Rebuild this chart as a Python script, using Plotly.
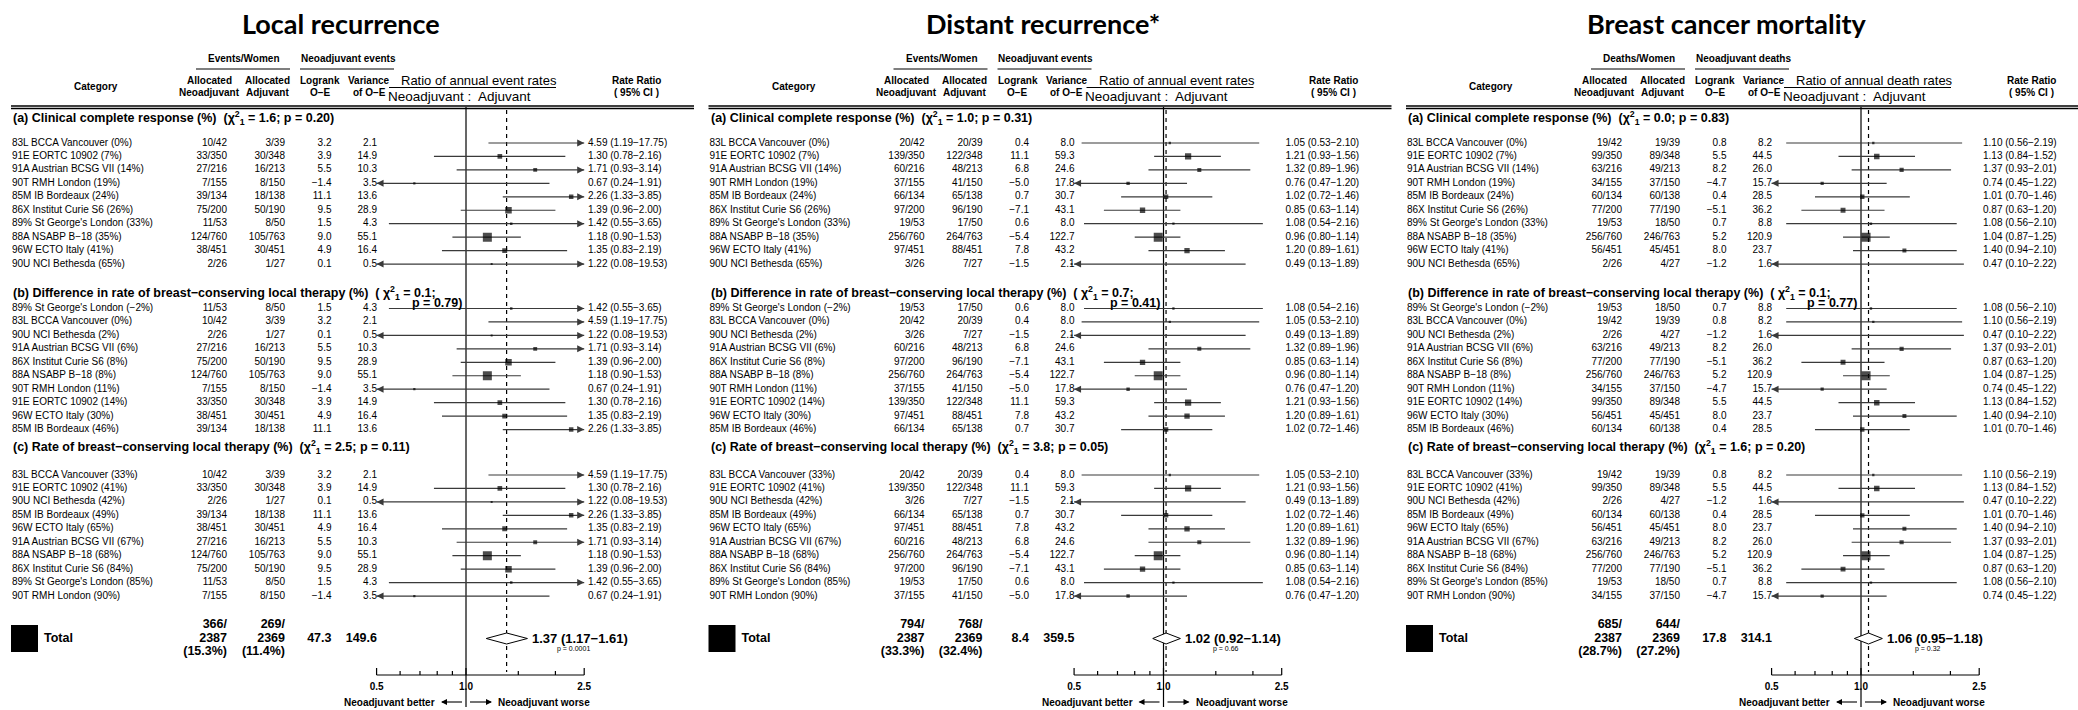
import math
import plotly.graph_objects as go

# ---------------------------------------------------------------- data
PANEL_TITLES = ["Local recurrence", "Distant recurrence*", "Breast cancer mortality"]
COUNT_HEADERS = ["Events/Women", "Events/Women", "Deaths/Women"]
OE_HEADERS = ["Neoadjuvant events", "Neoadjuvant events", "Neoadjuvant deaths"]
RATIO_HEADERS = ["Ratio of annual event rates", "Ratio of annual event rates", "Ratio of annual death rates"]

TRIAL_NAMES = ["83L BCCA Vancouver", "91E EORTC 10902", "91A Austrian BCSG VII", "90T RMH London",
               "85M IB Bordeaux", "86X Institut Curie S6", "89% St George's London", "88A NSABP B−18",
               "96W ECTO Italy", "90U NCI Bethesda"]
NEO_WOMEN = [42, 350, 216, 155, 134, 200, 53, 760, 451, 26]
ADJ_WOMEN = [39, 348, 213, 150, 138, 190, 50, 763, 451, 27]

SECTION_TITLES = ["(a) Clinical complete response (%)",
                  "(b) Difference in rate of breast−conserving local therapy (%)",
                  "(c) Rate of breast−conserving local therapy (%)"]
ORDER_A = [0, 1, 2, 3, 4, 5, 6, 7, 8, 9]
PCT_A = [0, 7, 14, 19, 24, 26, 33, 35, 41, 65]
ORDER_B = [6, 0, 9, 2, 5, 7, 3, 1, 8, 4]
PCT_B = [-2, 0, 2, 6, 8, 8, 11, 14, 30, 46]
ORDER_C = [0, 1, 9, 4, 8, 2, 7, 5, 6, 3]
PCT_C = [33, 41, 42, 49, 65, 67, 68, 84, 85, 90]

# Local recurrence
LOCAL_NEO_EVENTS = [10, 33, 27, 7, 39, 75, 11, 124, 38, 2]
LOCAL_ADJ_EVENTS = [3, 30, 16, 8, 18, 50, 8, 105, 30, 1]
LOCAL_OE = [3.2, 3.9, 5.5, -1.4, 11.1, 9.5, 1.5, 9.0, 4.9, 0.1]
LOCAL_VAR = [2.1, 14.9, 10.3, 3.5, 13.6, 28.9, 4.3, 55.1, 16.4, 0.5]
LOCAL_RR = [4.59, 1.30, 1.71, 0.67, 2.26, 1.39, 1.42, 1.18, 1.35, 1.22]
LOCAL_LO = [1.19, 0.78, 0.93, 0.24, 1.33, 0.96, 0.55, 0.90, 0.83, 0.08]
LOCAL_HI = [17.75, 2.16, 3.14, 1.91, 3.85, 2.00, 3.65, 1.53, 2.19, 19.53]
LOCAL_CHI = [1.6, 0.1, 2.5]
LOCAL_CHI_P = ["0.20", "0.79", "0.11"]
LOCAL_TOTAL_COUNTS = [366, 2387, "15.3%", 269, 2369, "11.4%"]
LOCAL_TOTAL_OE_VAR = [47.3, 149.6]
LOCAL_TOTAL_RR = [1.37, 1.17, 1.61]
LOCAL_TOTAL_P = "0.0001"

# Distant recurrence
DIST_NEO_EVENTS = [20, 139, 60, 37, 66, 97, 19, 256, 97, 3]
DIST_ADJ_EVENTS = [20, 122, 48, 41, 65, 96, 17, 264, 88, 7]
DIST_OE = [0.4, 11.1, 6.8, -5.0, 0.7, -7.1, 0.6, -5.4, 7.8, -1.5]
DIST_VAR = [8.0, 59.3, 24.6, 17.8, 30.7, 43.1, 8.0, 122.7, 43.2, 2.1]
DIST_RR = [1.05, 1.21, 1.32, 0.76, 1.02, 0.85, 1.08, 0.96, 1.20, 0.49]
DIST_LO = [0.53, 0.93, 0.89, 0.47, 0.72, 0.63, 0.54, 0.80, 0.89, 0.13]
DIST_HI = [2.10, 1.56, 1.96, 1.20, 1.46, 1.14, 2.16, 1.14, 1.61, 1.89]
DIST_CHI = [1.0, 0.7, 3.8]
DIST_CHI_P = ["0.31", "0.41", "0.05"]
DIST_TOTAL_COUNTS = [794, 2387, "33.3%", 768, 2369, "32.4%"]
DIST_TOTAL_OE_VAR = [8.4, 359.5]
DIST_TOTAL_RR = [1.02, 0.92, 1.14]
DIST_TOTAL_P = "0.66"

# Breast cancer mortality
MORT_NEO_EVENTS = [19, 99, 63, 34, 60, 77, 19, 256, 56, 2]
MORT_ADJ_EVENTS = [19, 89, 49, 37, 60, 77, 18, 246, 45, 4]
MORT_OE = [0.8, 5.5, 8.2, -4.7, 0.4, -5.1, 0.7, 5.2, 8.0, -1.2]
MORT_VAR = [8.2, 44.5, 26.0, 15.7, 28.5, 36.2, 8.8, 120.9, 23.7, 1.6]
MORT_RR = [1.10, 1.13, 1.37, 0.74, 1.01, 0.87, 1.08, 1.04, 1.40, 0.47]
MORT_LO = [0.56, 0.84, 0.93, 0.45, 0.70, 0.63, 0.56, 0.87, 0.94, 0.10]
MORT_HI = [2.19, 1.52, 2.01, 1.22, 1.46, 1.20, 2.10, 1.25, 2.10, 2.22]
MORT_CHI = [0.0, 0.1, 1.6]
MORT_CHI_P = ["0.83", "0.77", "0.20"]
MORT_TOTAL_COUNTS = [685, 2387, "28.7%", 644, 2369, "27.2%"]
MORT_TOTAL_OE_VAR = [17.8, 314.1]
MORT_TOTAL_RR = [1.06, 0.95, 1.18]
MORT_TOTAL_P = "0.32"

AXIS_LIMITS = [0.5, 2.5]
TICK_MAJOR = [0.5, 1.0, 2.5]
TICK_LABELS = ["0.5", "1.0", "2.5"]
TICK_MINOR = [0.6, 0.7, 0.8, 0.9, 1.5, 2.0]

PANELS = [
    dict(neo=LOCAL_NEO_EVENTS, adj=LOCAL_ADJ_EVENTS, oe=LOCAL_OE, var=LOCAL_VAR, rr=LOCAL_RR,
         lo=LOCAL_LO, hi=LOCAL_HI, chi=LOCAL_CHI, chip=LOCAL_CHI_P, tc=LOCAL_TOTAL_COUNTS,
         tov=LOCAL_TOTAL_OE_VAR, trr=LOCAL_TOTAL_RR, tp=LOCAL_TOTAL_P),
    dict(neo=DIST_NEO_EVENTS, adj=DIST_ADJ_EVENTS, oe=DIST_OE, var=DIST_VAR, rr=DIST_RR,
         lo=DIST_LO, hi=DIST_HI, chi=DIST_CHI, chip=DIST_CHI_P, tc=DIST_TOTAL_COUNTS,
         tov=DIST_TOTAL_OE_VAR, trr=DIST_TOTAL_RR, tp=DIST_TOTAL_P),
    dict(neo=MORT_NEO_EVENTS, adj=MORT_ADJ_EVENTS, oe=MORT_OE, var=MORT_VAR, rr=MORT_RR,
         lo=MORT_LO, hi=MORT_HI, chi=MORT_CHI, chip=MORT_CHI_P, tc=MORT_TOTAL_COUNTS,
         tov=MORT_TOTAL_OE_VAR, trr=MORT_TOTAL_RR, tp=MORT_TOTAL_P),
]
ORDERS = [ORDER_A, ORDER_B, ORDER_C]
PCTS = [PCT_A, PCT_B, PCT_C]

# ---------------------------------------------------------------- layout constants
W, H = 2078, 710
FONT = "Liberation Sans, Arial, Helvetica, sans-serif"
TITLE_FONT = "Lato, Carlito, Calibri, sans-serif"
X1 = [466.0, 1163.5, 1861.0]          # pixel position of ratio 1.0 in each panel
TITLE_X = [341, 1043, 1727]
PX_LN = 129.0                          # pixels per natural-log unit
SEC_HEAD_Y = [118, 293, 447]
SEC_ROW0 = [143, 308.5, 475]
ROW_STEP = 13.45
TOTAL_Y = 638.5
AXIS_Y = 675

fig = go.Figure()
fig.update_layout(
    width=W, height=H, margin=dict(l=0, r=0, t=0, b=0),
    paper_bgcolor="white", plot_bgcolor="rgba(0,0,0,0)", showlegend=False,
    xaxis=dict(range=[0, W], domain=[0, 1], visible=False),
    yaxis=dict(range=[H, 0], domain=[0, 1], visible=False),
)
pad = 4
for k in range(3):
    left = X1[k] - PX_LN * math.log(1 / AXIS_LIMITS[0]) - pad
    right = X1[k] + PX_LN * math.log(AXIS_LIMITS[1]) + pad
    dl = pad / (PX_LN * math.log(10))
    fig.layout[f"xaxis{k + 2}"] = dict(
        type="log", range=[math.log10(AXIS_LIMITS[0]) - dl, math.log10(AXIS_LIMITS[1]) + dl],
        domain=[left / W, right / W], anchor="y", visible=False)


def fmt1(v):
    return f"{v:.1f}".replace("-", "−")


def text_trace(xs, ys, texts, pos, size, bold=False, xaxis="x", color="black", family=FONT):
    fig.add_trace(go.Scatter(
        x=xs, y=ys, text=[f"<b>{t}</b>" if bold else t for t in texts], mode="text",
        textposition=pos, textfont=dict(family=family, size=size, color=color),
        xaxis=xaxis, yaxis="y", hoverinfo="skip", cliponaxis=False))


def ann(x, y, text, size, bold=False, xanchor="center", family=FONT, xref="x"):
    fig.add_annotation(x=x, y=y, xref=xref, yref="y", text=f"<b>{text}</b>" if bold else text,
                       showarrow=False, xanchor=xanchor, yanchor="middle", borderpad=0,
                       font=dict(family=family, size=size, color="black"))


def hline(x0, x1, y, width=1.0):
    fig.add_shape(type="line", xref="x", yref="y", x0=x0, x1=x1, y0=y, y1=y,
                  line=dict(color="black", width=width))


for k, P in enumerate(PANELS):
    x1 = X1[k]
    xa = f"x{k + 2}"
    cat_l, neo_r, adj_r, oe_r, var_r, rr_l = x1 - 454, x1 - 239, x1 - 181, x1 - 134.5, x1 - 89, x1 + 122

    # ---- titles and headers
    ann(TITLE_X[k], 23, PANEL_TITLES[k], 27, bold=True, family=TITLE_FONT)
    ann(x1 - 222, 58, COUNT_HEADERS[k], 10, bold=True)
    ann(x1 - 118, 58, OE_HEADERS[k], 10, bold=True)
    hline(x1 - 270, x1 - 176, 69, 1.2)
    hline(x1 - 166, x1 - 72, 69, 1.2)
    ann(x1 - 370, 86, "Category", 10, bold=True)
    for cx, l1, l2 in [(x1 - 257, "Allocated", "Neoadjuvant"),
                       (x1 - 199, "Allocated", "Adjuvant"),
                       (x1 - 146, "Logrank", "O−E"),
                       (x1 - 97, "Variance", "of O−E")]:
        ann(cx, 80, l1, 10, bold=True)
        ann(cx, 92.5, l2, 10, bold=True)
    ann(x1 + 13, 80, RATIO_HEADERS[k], 13)
    hline(x1 - 77, x1 + 90, 87.5, 1.2)
    ann(x1 - 7, 96, "Neoadjuvant :  Adjuvant", 13.5)
    ann(x1 + 170, 80, "Rate Ratio", 10, bold=True)
    ann(x1 + 170, 92.5, "( 95% CI )", 10, bold=True)
    hline(x1 - 455, min(x1 + 228, W), 106, 1.4)
    hline(x1 - 455, min(x1 + 228, W), 108.5, 1.4)

    # ---- section headers
    chi, chip = P["chi"], P["chip"]
    for s in range(3):
        chi_txt = f"χ<sup>2</sup><sub>1</sub> = {chi[s]:.1f};"
        if s == 1:
            ann(cat_l, SEC_HEAD_Y[s], f"{SECTION_TITLES[s]}  ( {chi_txt}", 12.5, bold=True, xanchor="left")
            ann(x1 - 55, SEC_HEAD_Y[s] + 9.5, f"p = {chip[s]})", 12.5, bold=True, xanchor="left")
        else:
            ann(cat_l, SEC_HEAD_Y[s], f"{SECTION_TITLES[s]}  ({chi_txt} p = {chip[s]})", 12.5,
                bold=True, xanchor="left")

    # ---- rows
    ys, cats, neos, adjs, oes, vrs, rrs = [], [], [], [], [], [], []
    ci_x, ci_y, mk_x, mk_y, mk_s = [], [], [], [], []
    arr_r, arr_l = [], []
    vmax = max(P["var"])
    for s in range(3):
        for j, idx in enumerate(ORDERS[s]):
            y = SEC_ROW0[s] + j * ROW_STEP
            ys.append(y)
            pct = str(PCTS[s][j]).replace("-", "−")
            cats.append(f"{TRIAL_NAMES[idx]} ({pct}%)")
            neos.append(f"{P['neo'][idx]}/{NEO_WOMEN[idx]}")
            adjs.append(f"{P['adj'][idx]}/{ADJ_WOMEN[idx]}")
            oes.append(fmt1(P["oe"][idx]))
            vrs.append(fmt1(P["var"][idx]))
            rr, lo, hi = P["rr"][idx], P["lo"][idx], P["hi"][idx]
            rrs.append(f"{rr:.2f} ({lo:.2f}−{hi:.2f})")
            ci_x += [max(lo, AXIS_LIMITS[0]), min(hi, AXIS_LIMITS[1]), None]
            ci_y += [y, y, None]
            mk_x.append(rr)
            mk_y.append(y)
            mk_s.append(max(2.0, 9.0 * math.sqrt(P["var"][idx] / vmax)))
            if hi > AXIS_LIMITS[1]:
                arr_r.append(y)
            if lo < AXIS_LIMITS[0]:
                arr_l.append(y)

    text_trace([cat_l] * len(ys), ys, cats, "middle right", 10)
    text_trace([neo_r] * len(ys), ys, neos, "middle left", 10)
    text_trace([adj_r] * len(ys), ys, adjs, "middle left", 10)
    text_trace([oe_r] * len(ys), ys, oes, "middle left", 10)
    text_trace([var_r] * len(ys), ys, vrs, "middle left", 10)
    text_trace([rr_l] * len(ys), ys, rrs, "middle right", 10)

    # reference lines
    fig.add_trace(go.Scatter(x=[1, 1], y=[107, 707], mode="lines", xaxis=xa, yaxis="y",
                             line=dict(color="black", width=1.2), hoverinfo="skip"))
    fig.add_trace(go.Scatter(x=[P["trr"][0]] * 2, y=[110, 672], mode="lines", xaxis=xa, yaxis="y",
                             line=dict(color="black", width=1.2, dash="4px,4px"), hoverinfo="skip"))

    # CI lines, squares, arrows
    fig.add_trace(go.Scatter(x=ci_x, y=ci_y, mode="lines", xaxis=xa, yaxis="y",
                             line=dict(color="#3a3a3a", width=1.2), hoverinfo="skip"))
    fig.add_trace(go.Scatter(x=mk_x, y=mk_y, mode="markers", xaxis=xa, yaxis="y",
                             marker=dict(symbol="square", size=mk_s, color="black", line=dict(width=0)),
                             hoverinfo="skip", cliponaxis=True))
    if arr_r:
        fig.add_trace(go.Scatter(x=[AXIS_LIMITS[1]] * len(arr_r), y=arr_r, mode="markers", xaxis=xa,
                                 yaxis="y", marker=dict(symbol="arrow-right", size=7, color="#3a3a3a"),
                                 hoverinfo="skip", cliponaxis=False))
    if arr_l:
        fig.add_trace(go.Scatter(x=[AXIS_LIMITS[0]] * len(arr_l), y=arr_l, mode="markers", xaxis=xa,
                                 yaxis="y", marker=dict(symbol="arrow-left", size=7, color="#3a3a3a"),
                                 hoverinfo="skip", cliponaxis=False))

    # ---- total row
    fig.add_shape(type="rect", xref="x", yref="y", x0=x1 - 455, x1=x1 - 428,
                  y0=TOTAL_Y - 13.5, y1=TOTAL_Y + 13.5, fillcolor="black", line=dict(width=0))
    text_trace([x1 - 422], [TOTAL_Y], ["Total"], "middle right", 12.5, bold=True)
    tc = P["tc"]
    text_trace([neo_r] * 3, [TOTAL_Y - 13.5, TOTAL_Y, TOTAL_Y + 13.5],
               [f"{tc[0]}/", f"{tc[1]}", f"({tc[2]})"], "middle left", 12.5, bold=True)
    text_trace([adj_r] * 3, [TOTAL_Y - 13.5, TOTAL_Y, TOTAL_Y + 13.5],
               [f"{tc[3]}/", f"{tc[4]}", f"({tc[5]})"], "middle left", 12.5, bold=True)
    text_trace([oe_r, var_r], [TOTAL_Y, TOTAL_Y], [fmt1(P["tov"][0]), fmt1(P["tov"][1])],
               "middle left", 12.5, bold=True)
    est, tlo, thi = P["trr"]
    fig.add_trace(go.Scatter(x=[tlo, est, thi, est, tlo], y=[TOTAL_Y, TOTAL_Y - 5.5, TOTAL_Y, TOTAL_Y + 5.5, TOTAL_Y],
                             mode="lines", fill="toself", fillcolor="white", xaxis=xa, yaxis="y",
                             line=dict(color="black", width=1), hoverinfo="skip"))
    fig.add_annotation(x=math.log10(thi), y=TOTAL_Y, xref=xa, yref="y", xanchor="left", yanchor="middle",
                       xshift=3, showarrow=False, text=f"<b>{est:.2f} ({tlo:.2f}−{thi:.2f})</b>",
                       font=dict(family=FONT, size=13, color="black"))
    fig.add_annotation(x=math.log10(thi), y=TOTAL_Y + 10, xref=xa, yref="y", xanchor="center",
                       yanchor="middle", xshift=46, showarrow=False, text=f"p = {P['tp']}",
                       font=dict(family=FONT, size=7, color="black"))

    # ---- axis
    fig.add_trace(go.Scatter(x=AXIS_LIMITS, y=[AXIS_Y, AXIS_Y], mode="lines", xaxis=xa, yaxis="y",
                             line=dict(color="black", width=1.2), hoverinfo="skip"))
    tx, ty = [], []
    for t in TICK_MAJOR:
        tx += [t, t, None]
        ty += [AXIS_Y, AXIS_Y - 7, None]
    for t in TICK_MINOR:
        tx += [t, t, None]
        ty += [AXIS_Y, AXIS_Y - 4, None]
    fig.add_trace(go.Scatter(x=tx, y=ty, mode="lines", xaxis=xa, yaxis="y",
                             line=dict(color="black", width=1.2), hoverinfo="skip"))
    text_trace(TICK_MAJOR, [687] * 3, TICK_LABELS, "middle center", 10, bold=True, xaxis=xa)

    ann(x1 - 30, 702, "Neoadjuvant better", 10, bold=True, xanchor="right")
    ann(x1 + 31, 702, "Neoadjuvant worse", 10, bold=True, xanchor="left")
    fig.add_trace(go.Scatter(x=[x1 - 4, x1 - 24, None, x1 + 4, x1 + 25], y=[702, 702, None, 702, 702],
                             mode="lines", line=dict(color="black", width=1.1), hoverinfo="skip"))
    fig.add_trace(go.Scatter(x=[x1 - 25, x1 + 26], y=[702, 702], mode="markers",
                             marker=dict(symbol=["arrow-left", "arrow-right"], size=6, color="black"),
                             hoverinfo="skip", cliponaxis=False))

fig.write_html("out.html")
